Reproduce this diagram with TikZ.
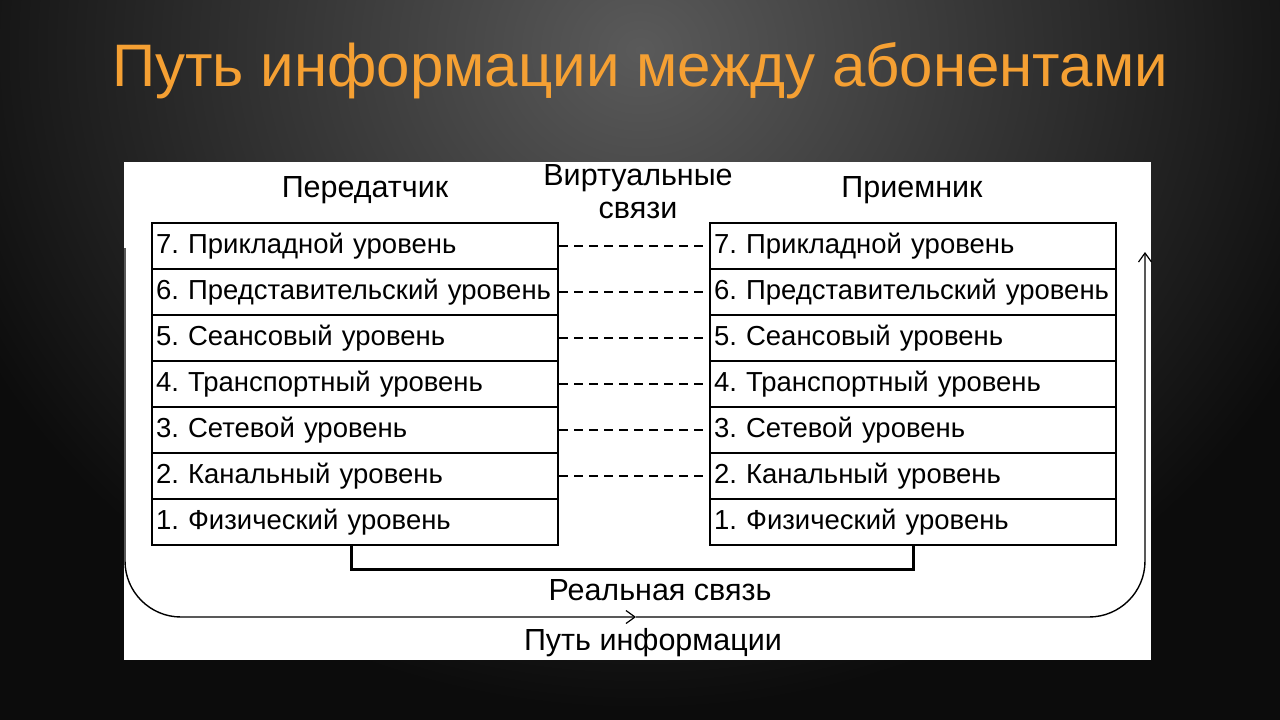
\documentclass[tikz,border=0pt]{standalone}
\usepackage{fontspec}
\setmainfont{Liberation Sans}
\usetikzlibrary{arrows.meta,positioning,calc}
\definecolor{slideorange}{HTML}{F5A033}
\definecolor{slidegray}{HTML}{5A5A5A}
\definecolor{slidedark}{HTML}{0C0C0C}
\frenchspacing

\begin{document}
\begin{tikzpicture}[x=1pt,y=-1pt,
    layer/.style={draw,line width=2pt,anchor=north west,minimum width=406pt,
                  minimum height=46pt,inner xsep=4pt,text width=398pt,align=left,
                  font=\fontsize{27.5}{32}\selectfont},
    head/.style={font=\fontsize{30.5}{33}\selectfont,align=center},
    virt/.style={line width=2pt,dash pattern=on 9pt off 6pt},
    real/.style={line width=3pt},
    infopath/.style={line width=1.4pt,rounded corners=56pt},
    tip/.style={-{Straight Barb[length=9pt,width=13pt,line width=1.2pt]}}]
  \useasboundingbox (0,0) rectangle (1280,720);
  % slide background
  \fill[slidedark] (0,0) rectangle (1280,720);
  \begin{scope}
    \clip (0,0) rectangle (1280,720);
    \shade[inner color=slidegray,outer color=slidedark] (640,50) ellipse (740 and 660);
  \end{scope}
  \fill[white] (124,162) rectangle (1151,660);
  \node[font=\fontsize{60}{70}\selectfont,text=slideorange,anchor=base] (title) at (640,86)
    {Путь информации между абонентами};
  % headers
  \node[head] (tx) at (365,190) {Передатчик};
  \node[head] (rx) at (912,190) {Приемник};
  \node[head] (virtual) at (638,192) {Виртуальные\\связи};
  % the two stacks of levels
  \foreach \n/\t [count=\i from 0] in {7/Прикладной,6/Представительский,5/Сеансовый,
      4/Транспортный,3/Сетевой,2/Канальный,1/Физический} {
    \node[layer] (L\n) at (151,222+46*\i) {\n. \t\ уровень};
    \node[layer] (R\n) at (709,222+46*\i) {\n. \t\ уровень};
  }
  \foreach \n in {7,...,2}
    \draw[virt] (L\n.east) -- (R\n.west);
  % real link
  \draw[real] ([xshift=-4pt]L1.south) -- ++(0,23) -| (R1.south);
  \node[head] (reallbl) at (660,590) {Реальная связь};
  % information path
  \coordinate (pstart) at (125,248);
  \coordinate (pmid) at (636,617);
  \coordinate (pend) at (1145,252);
  \draw[infopath,tip] (pstart) |- (pmid);
  \draw[infopath,tip] (pmid) -| (pend);
  \node[head] (pathlbl) at (653,643) {Путь информации};
\end{tikzpicture}
\end{document}
